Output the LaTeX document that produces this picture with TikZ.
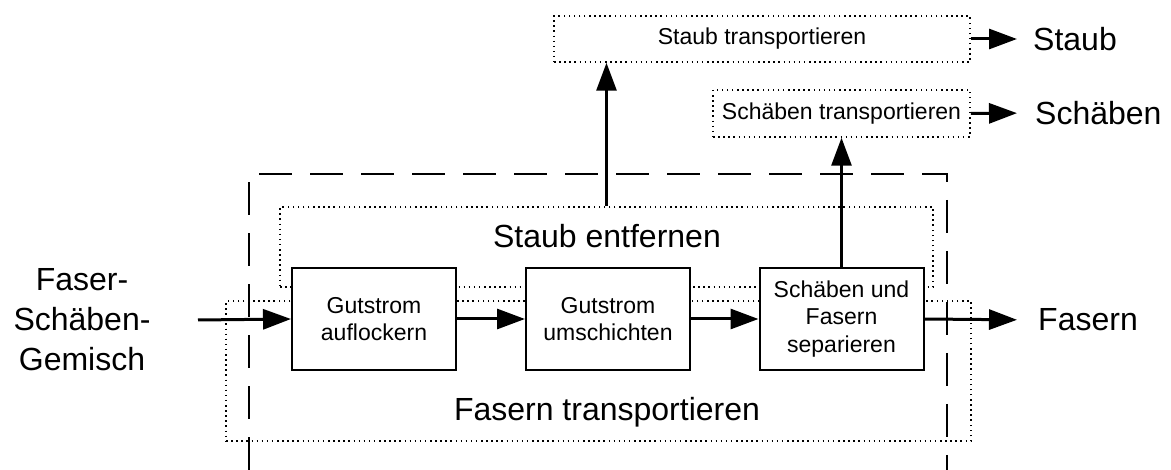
\documentclass[tikz,border=0pt]{standalone}
\usepackage{fontspec}
\setmainfont{Liberation Sans}
\usetikzlibrary{arrows.meta}
\tikzset{
  big/.style={font=\fontsize{32}{40}\selectfont, inner sep=0pt, align=center},
  small/.style={font=\fontsize{23}{27.5}\selectfont, inner sep=0pt, align=center},
  procbox/.style={draw, line width=2pt, minimum width=164pt, minimum height=102pt, inner sep=0pt, small},
  dotbox/.style={draw, line width=1.5pt, dash pattern=on 1.5pt off 3.6pt, inner sep=0pt},
  dashline/.style={line width=2.5pt, dash pattern=on 33pt off 18pt},
  arr/.style={line width=3pt, -{Triangle[length=28pt,width=20pt]}},
}
\begin{document}
\begin{tikzpicture}[x=1pt,y=-1pt]
\useasboundingbox (0,0) rectangle (1171,470);
% containers
\node[dotbox, minimum width=745pt, minimum height=140pt] (fastr) at (598.5,371) {};
\node[dotbox, minimum width=653pt, minimum height=80pt] (staubent) at (606.5,247) {};
\draw[dashline] (249,470) -- (249,174) -- (947,174) -- (947,470);
\node[big] (staubentl) at (607,236) {Staub entfernen};
\node[big] (fastrl) at (607,412) {Fasern transportieren};
% process boxes
\node[procbox, fill=white] (b1) at (374,319) {Gutstrom\\auflockern};
\node[procbox, fill=white] (b2) at (608,319) {Gutstrom\\umschichten};
\node[procbox, fill=white] (b3) at (841.5,319) {Schäben und\\Fasern\\separieren};
% top boxes
\node[dotbox, minimum width=416pt, minimum height=46pt, small] (staubbox) at (762,39) {Staub transportieren};
\node[dotbox, minimum width=257pt, minimum height=47pt, small] (schbox) at (841.5,113.5) {Schäben transportieren};
% outer labels
\node[big] (gemisch) at (82,320) {Faser-\\Schäben-\\Gemisch};
\node[big, anchor=west] (staubl) at (1033,39) {Staub};
\node[big, anchor=west] (schl) at (1035,113) {Schäben};
\node[big, anchor=west] (fasl) at (1038,320) {Fasern};
\coordinate (in) at (198,320);
% arrows
\draw[arr] (in) -- (b1.west);
\draw[arr] (b1) -- (b2);
\draw[arr] (b2) -- (b3);
\draw[arr, shorten >=21pt] (b3.east) -- (fasl.west);
\draw[arr] (staubent.north) -- (staubent.north |- staubbox.south);
\draw[arr] (b3.north) -- (schbox.south);
\draw[arr, shorten >=16pt] (staubbox.east) -- (staubl.west);
\draw[arr, shorten >=18pt] (schbox.east) -- (schl.west);
\end{tikzpicture}
\end{document}
